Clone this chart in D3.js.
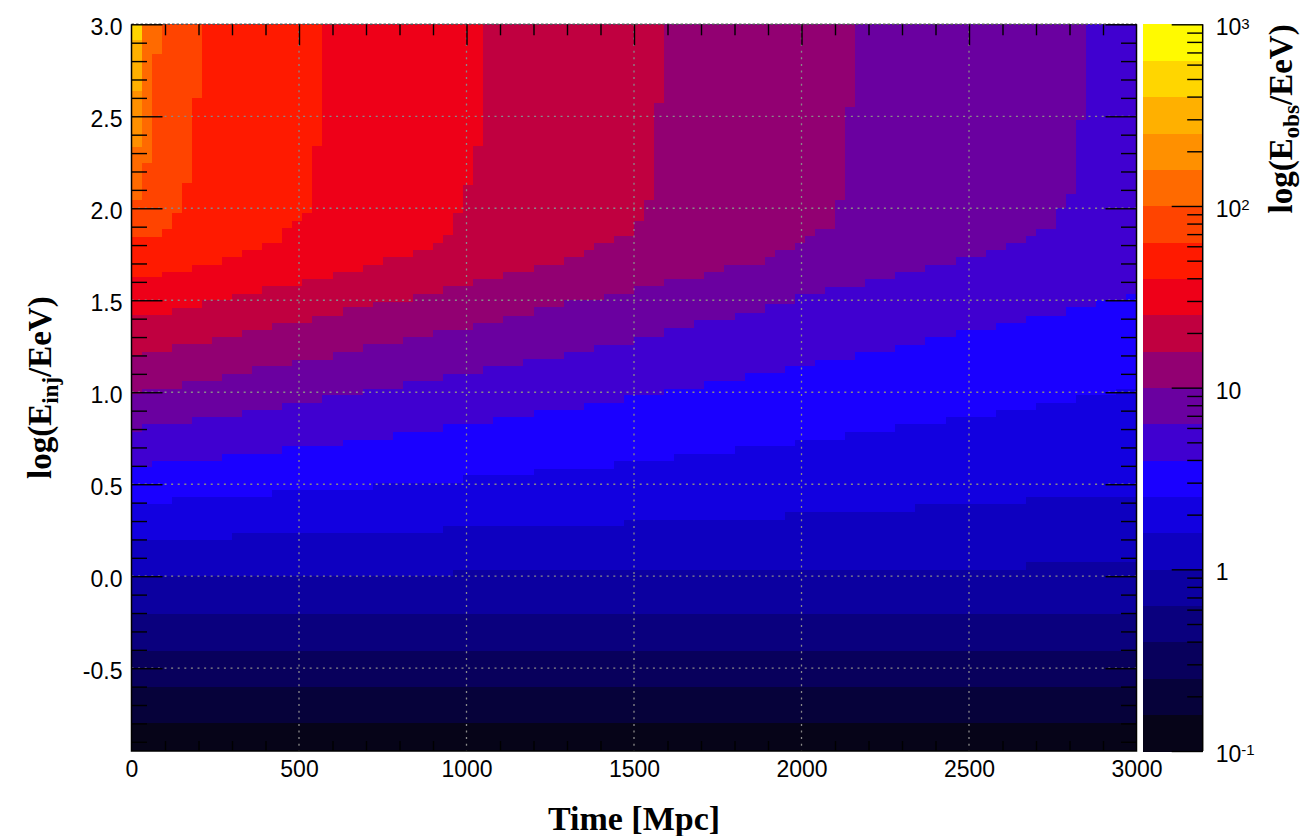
<!DOCTYPE html>
<html>
<head>
<meta charset="utf-8">
<script src="https://cdn.jsdelivr.net/npm/d3@7"></script>
<style>
  body { margin: 0; background: #fff; }
  svg  { display: block; }
</style>
</head>
<body>
<svg id="chart" width="1313" height="836"></svg>
<script>
// ── 軸刻度 ──────────────────────────────────────────────────────
const timeTicks = [0, 500, 1000, 1500, 2000, 2500, 3000];          // Mpc
const injTicks  = [-0.5, 0.0, 0.5, 1.0, 1.5, 2.0, 2.5, 3.0];      // log(E_inj/EeV)
const obsTicks  = [0.1, 1, 10, 100, 1000];                          // E_obs/EeV

// 20 個色階，每階 0.2 dex，從 log(E_obs) = -1 到 3
const levelColors = [
  "#060418", "#06023a", "#08005c", "#0a007e", "#0c00a0",
  "#0e00c0", "#1200e0", "#1a00ff", "#4000d0", "#6a00a0",
  "#920072", "#c00040", "#ee0018", "#ff1a00", "#ff4400",
  "#ff6a00", "#ff9000", "#ffb000", "#ffd600", "#fffa00"
];

// ── 等值線：log(E_obs/EeV) = 常數 ──────────────────────────────
// 每點 [time(Mpc), log(E_inj/EeV)]：該 time 起邊界所在的 E_inj（階梯）
const contourM08 = [[0, -0.80]];
const contourM06 = [[0, -0.604]];
const contourM04 = [[0, -0.408]];
const contourM02 = [[0, -0.203]];
const contour00  = [[0, 0.0], [960, 0.033], [2670, 0.077]];
const contour02  = [[0, 0.196], [300, 0.236], [930, 0.272], [1470, 0.308], [1950, 0.35],
                    [2340, 0.392], [2670, 0.428]];
const contour04  = [[0, 0.395], [120, 0.432], [420, 0.471], [720, 0.508], [990, 0.549],
                    [1200, 0.585], [1440, 0.625], [1620, 0.667], [1800, 0.707], [1980, 0.743],
                    [2130, 0.785], [2280, 0.826], [2430, 0.863], [2580, 0.903], [2700, 0.943],
                    [2820, 0.984], [2940, 1.02]];
const contour06  = [[0, 0.594], [60, 0.625], [270, 0.664], [450, 0.707], [630, 0.743],
                    [780, 0.785], [930, 0.827], [1080, 0.863], [1200, 0.903], [1350, 0.943],
                    [1470, 0.984], [1590, 1.02], [1710, 1.06], [1830, 1.102], [1950, 1.142],
                    [2040, 1.178], [2160, 1.22], [2280, 1.256], [2370, 1.298], [2460, 1.338],
                    [2580, 1.378], [2670, 1.416], [2790, 1.461], [2880, 1.5], [2970, 1.533]];
const contour08  = [[0, 0.785], [30, 0.83], [180, 0.866], [330, 0.903], [450, 0.94],
                    [570, 0.985], [690, 1.02], [810, 1.06], [930, 1.10], [1050, 1.14],
                    [1170, 1.18], [1290, 1.22], [1380, 1.256], [1500, 1.30], [1590, 1.35],
                    [1680, 1.39], [1800, 1.43], [1890, 1.48], [1980, 1.533], [2070, 1.573],
                    [2190, 1.613], [2280, 1.655], [2370, 1.691], [2460, 1.733], [2550, 1.773],
                    [2610, 1.813], [2670, 1.85], [2700, 1.89], [2760, 2.0], [2790, 2.08],
                    [2820, 2.48], [2850, 3.0]];
const contour10  = [[0, 0.993], [30, 1.02], [150, 1.06], [270, 1.098], [360, 1.142],
                    [480, 1.178], [600, 1.22], [690, 1.26], [810, 1.298], [900, 1.338],
                    [1020, 1.378], [1110, 1.416], [1200, 1.461], [1290, 1.5], [1410, 1.533],
                    [1500, 1.577], [1590, 1.613], [1710, 1.655], [1770, 1.691], [1890, 1.733],
                    [1920, 1.773], [1980, 1.813], [2010, 1.85], [2040, 1.89], [2100, 2.045],
                    [2130, 2.55], [2160, 3.0]];
const contour12  = [[0, 1.2], [30, 1.22], [120, 1.26], [240, 1.30], [330, 1.338],
                    [420, 1.374], [540, 1.414], [630, 1.461], [720, 1.49], [840, 1.533],
                    [930, 1.576], [1020, 1.613], [1110, 1.655], [1200, 1.69], [1290, 1.733],
                    [1350, 1.773], [1380, 1.813], [1440, 1.85], [1500, 1.93], [1530, 2.045],
                    [1560, 2.57], [1590, 3.0]];
const contour14  = [[0, 1.418], [120, 1.46], [210, 1.5], [300, 1.536], [390, 1.578],
                    [510, 1.618], [600, 1.655], [690, 1.69], [750, 1.733], [840, 1.773],
                    [900, 1.813], [930, 1.855], [960, 1.973], [990, 2.127], [1020, 2.336],
                    [1050, 3.0]];
const contour16  = [[0, 1.628], [90, 1.655], [180, 1.691], [270, 1.736], [330, 1.773],
                    [390, 1.813], [450, 1.891], [480, 1.931], [510, 1.973], [540, 2.336],
                    [570, 3.0]];
const contour18  = [[0, 1.845], [90, 1.89], [120, 1.972], [150, 2.135], [180, 2.597],
                    [210, 3.0]];
const contour20  = [[0, 2.044], [30, 2.244], [60, 2.84], [90, 3.0]];
const contour22  = [[0, 2.335], [30, 3.0]];
const contour24  = [[0, 2.64], [30, 3.0]];
const contour26  = [[0, 2.915], [30, 3.0]];

const contourLevels = [-0.8, -0.6, -0.4, -0.2, 0.0, 0.2, 0.4, 0.6, 0.8, 1.0,
                       1.2, 1.4, 1.6, 1.8, 2.0, 2.2, 2.4, 2.6];
const contourSteps  = [contourM08, contourM06, contourM04, contourM02, contour00,
                       contour02, contour04, contour06, contour08, contour10,
                       contour12, contour14, contour16, contour18, contour20,
                       contour22, contour24, contour26];

// ── 版面 ────────────────────────────────────────────────────────
const M   = { left: 131.5, right: 1136.5, top: 24.3, bottom: 751 };
const BAR = { left: 1143.3, right: 1202.7 };
const SANS  = "'Liberation Sans', Arial, Helvetica, sans-serif";
const SERIF = "'Liberation Serif', 'Times New Roman', Times, serif";
const GRID_COLOR = "#8a8a8a";
const TICK_FONT  = 23;

const svg = d3.select("#chart");

const x = d3.scaleLinear().domain([0, 3000]).range([M.left, M.right]);
const y = d3.scaleLinear().domain([-0.95, 3.0]).range([M.bottom, M.top]);
const z = d3.scaleLog().domain([0.1, 1000]).range([M.bottom, M.top]);

svg.append("defs").append("clipPath").attr("id", "plotClip")
  .append("rect")
  .attr("x", M.left).attr("y", M.top)
  .attr("width", M.right - M.left).attr("height", M.bottom - M.top);

// ── 色階圖：由低到高依序覆蓋「等值線以上」區域 ─────────────────
const heat = svg.append("g").attr("clip-path", "url(#plotClip)");
heat.append("rect")
  .attr("x", M.left).attr("y", M.top)
  .attr("width", M.right - M.left).attr("height", M.bottom - M.top)
  .attr("fill", levelColors[0]);

const aboveArea = d3.area()
  .curve(d3.curveStepAfter)
  .x(d => x(d[0]))
  .y0(M.top - 2)
  .y1(d => y(d[1]));

contourLevels.forEach((lv, i) => {
  const steps = contourSteps[i];
  const last  = steps[steps.length - 1];
  const band  = Math.round((lv + 1) / 0.2);
  heat.append("path")
    .attr("d", aboveArea(steps.concat([[3000, last[1]]])))
    .attr("fill", levelColors[band])
    .attr("shape-rendering", "crispEdges");
});

// ── 格線（點線）────────────────────────────────────────────────
const grid = svg.append("g")
  .attr("stroke", GRID_COLOR)
  .attr("stroke-width", 1.3)
  .attr("stroke-dasharray", "2,4.6");
timeTicks.slice(1, -1).forEach(t => {
  grid.append("line")
    .attr("x1", x(t)).attr("x2", x(t))
    .attr("y1", M.top).attr("y2", M.bottom);
});
injTicks.slice(0, -1).forEach(v => {
  grid.append("line")
    .attr("x1", M.left).attr("x2", M.right)
    .attr("y1", y(v)).attr("y2", y(v));
});
// 上框線同樣是點線
svg.append("line")
  .attr("x1", M.left).attr("x2", M.right)
  .attr("y1", M.top).attr("y2", M.top)
  .attr("stroke", "#555").attr("stroke-width", 1.6)
  .attr("stroke-dasharray", "2.5,2");

// ── 刻度（內向）────────────────────────────────────────────────
const minorTime = d3.range(100, 3000, 100).filter(t => t % 500 !== 0);
const minorInj  = d3.range(-9, 30).map(k => k / 10)
  .filter(v => Math.abs(v * 2 - Math.round(v * 2)) > 1e-6);
const minorObs  = [];
[0.1, 1, 10, 100].forEach(dec => { for (let k = 2; k <= 9; k++) minorObs.push(k * dec); });

function styleAxis(g) {
  g.attr("font-family", SANS).attr("font-size", TICK_FONT);
  g.select(".domain").remove();
  g.selectAll(".tick line").attr("stroke", "#000").attr("stroke-width", 1.4);
  return g;
}

// 左軸：主刻度 + 標籤
styleAxis(svg.append("g")
  .attr("transform", `translate(${M.left},0)`)
  .call(d3.axisLeft(y).tickValues(injTicks).tickSize(-31).tickPadding(9)
    .tickFormat(d => d.toFixed(1))))
  .selectAll("text").attr("dy", "0.46em").attr("fill", "#000");
styleAxis(svg.append("g")
  .attr("transform", `translate(${M.left},0)`)
  .call(d3.axisLeft(y).tickValues(minorInj).tickSize(-15.5).tickFormat("")));

// 右軸（只有刻度）
styleAxis(svg.append("g")
  .attr("transform", `translate(${M.right},0)`)
  .call(d3.axisRight(y).tickValues(injTicks).tickSize(-31).tickFormat("")));
styleAxis(svg.append("g")
  .attr("transform", `translate(${M.right},0)`)
  .call(d3.axisRight(y).tickValues(minorInj).tickSize(-15.5).tickFormat("")));

// 下軸：標籤 + 次刻度
styleAxis(svg.append("g")
  .attr("transform", `translate(0,${M.bottom})`)
  .call(d3.axisBottom(x).tickValues(timeTicks).tickSize(0).tickPadding(10)
    .tickFormat(d => String(d))))
  .selectAll("text").attr("fill", "#000");
styleAxis(svg.append("g")
  .attr("transform", `translate(0,${M.bottom})`)
  .call(d3.axisBottom(x).tickValues(minorTime).tickSize(-10).tickFormat("")));

// 上軸（只有刻度）
styleAxis(svg.append("g")
  .attr("transform", `translate(0,${M.top})`)
  .call(d3.axisTop(x).tickValues(timeTicks.slice(1, -1)).tickSize(-21).tickFormat("")));
styleAxis(svg.append("g")
  .attr("transform", `translate(0,${M.top})`)
  .call(d3.axisTop(x).tickValues(minorTime).tickSize(-11).tickFormat("")));

// 外框（左、下、右）
svg.append("path")
  .attr("d", `M${M.left},${M.top}V${M.bottom}H${M.right}V${M.top}`)
  .attr("fill", "none").attr("stroke", "#000").attr("stroke-width", 1.5);

// ── 色條 ────────────────────────────────────────────────────────
const bar = svg.append("g");
levelColors.forEach((c, i) => {
  const lo = Math.pow(10, -1 + i * 0.2), hi = Math.pow(10, -1 + (i + 1) * 0.2);
  bar.append("rect")
    .attr("x", BAR.left).attr("y", z(hi))
    .attr("width", BAR.right - BAR.left).attr("height", z(lo) - z(hi) + 0.5)
    .attr("fill", c)
    .attr("shape-rendering", "crispEdges");
});
styleAxis(svg.append("g")
  .attr("transform", `translate(${BAR.right},0)`)
  .call(d3.axisRight(z).tickValues(obsTicks).tickSize(-31).tickFormat("")));
styleAxis(svg.append("g")
  .attr("transform", `translate(${BAR.right},0)`)
  .call(d3.axisRight(z).tickValues(minorObs).tickSize(-15.5).tickFormat("")));
svg.append("line")
  .attr("x1", BAR.right).attr("x2", BAR.right)
  .attr("y1", M.top).attr("y2", M.bottom)
  .attr("stroke", "#000").attr("stroke-width", 1.5);

// 色條標籤：10^n
obsTicks.forEach(v => {
  const e = Math.round(Math.log10(v));
  const t = svg.append("text")
    .attr("x", BAR.right + 13).attr("y", z(v) + 11)
    .attr("font-family", SANS).attr("font-size", TICK_FONT).attr("fill", "#000");
  if (e === 0) { t.text("1"); return; }
  if (e === 1) { t.text("10"); return; }
  t.append("tspan").text("10");
  t.append("tspan").attr("dy", "-0.45em").attr("font-size", 15).text(String(e));
});

// ── 軸標題 ──────────────────────────────────────────────────────
function subTitle(g, main, sub, tail) {
  g.append("tspan").text(main);
  g.append("tspan").attr("font-size", 23).attr("dy", "0.32em").text(sub);
  g.append("tspan").attr("dy", "-0.22em").text(tail);
}

svg.append("text")
  .attr("x", (M.left + M.right) / 2).attr("y", 830)
  .attr("text-anchor", "middle")
  .attr("font-family", SERIF).attr("font-weight", "bold").attr("font-size", 34)
  .attr("fill", "#000")
  .text("Time [Mpc]");

subTitle(svg.append("text")
  .attr("transform", `translate(51,${(M.top + M.bottom) / 2}) rotate(-90)`)
  .attr("text-anchor", "middle")
  .attr("font-family", SERIF).attr("font-weight", "bold").attr("font-size", 33)
  .attr("fill", "#000"), "log(E", "inj", "/EeV)");

subTitle(svg.append("text")
  .attr("transform", `translate(1292,${M.top}) rotate(-90)`)
  .attr("text-anchor", "end")
  .attr("font-family", SERIF).attr("font-weight", "bold").attr("font-size", 33)
  .attr("fill", "#000"), "log(E", "obs", "/EeV)");
</script>
</body>
</html>
